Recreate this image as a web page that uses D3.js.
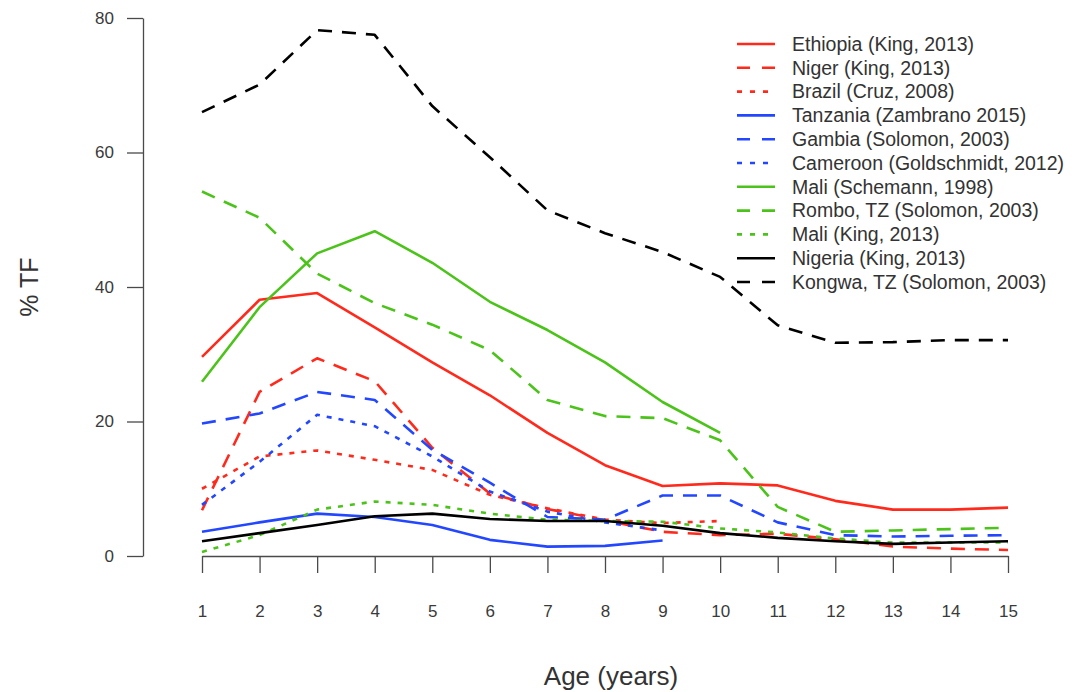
<!DOCTYPE html>
<html>
<head>
<meta charset="utf-8">
<script src="https://cdn.jsdelivr.net/npm/d3@7/dist/d3.min.js"></script>
<style>
  html, body { margin: 0; padding: 0; background: #fff; }
  svg { display: block; font-family: "Liberation Sans", Arial, Helvetica, sans-serif; }
</style>
</head>
<body>
<svg id="chart" width="1075" height="692"></svg>
<script>
// Age in years (x axis)
const ages = [1, 2, 3, 4, 5, 6, 7, 8, 9, 10, 11, 12, 13, 14, 15];
const yTicks = [0, 20, 40, 60, 80];

// Prevalence of trachomatous inflammation-follicular (%) by age; null = not surveyed
const ethiopiaKing   = [29.6, 38.1, 39.1, 34.0, 28.8, 23.9, 18.3, 13.5, 10.4, 10.8, 10.5, 8.2, 6.9, 6.9, 7.2];
const nigerKing      = [6.8, 24.4, 29.4, 26.0, 16.1, 9.3, 7.0, 5.3, 3.6, 3.1, 3.3, 2.5, 1.4, 1.1, 0.9];
const brazilCruz     = [10.0, 14.8, 15.7, 14.3, 12.8, 9.1, 7.1, 5.4, 4.9, 5.2, null, null, null, null, null];
const tanzaniaZamb   = [3.6, 5.0, 6.3, 5.8, 4.6, 2.4, 1.4, 1.5, 2.3, null, null, null, null, null, null];
const gambiaSolomon  = [19.7, 21.2, 24.4, 23.2, 15.8, 10.9, 5.8, 5.4, 9.0, 9.0, 5.0, 3.1, 2.9, 3.0, 3.1];
const cameroonGold   = [7.6, 14.0, 21.0, 19.3, 14.8, 9.6, 6.6, 5.0, 3.8, null, null, null, null, null, null];
const maliSchemann   = [25.9, 37.0, 45.0, 48.3, 43.6, 37.8, 33.6, 28.8, 22.9, 18.3, null, null, null, null, null];
const romboSolomon   = [54.2, 50.3, 42.0, 37.6, 34.4, 30.6, 23.2, 20.8, 20.5, 17.2, 7.3, 3.6, 3.8, 4.0, 4.2];
const maliKing       = [0.6, 3.1, 6.9, 8.1, 7.6, 6.3, 5.4, 5.2, 5.1, 4.1, 3.5, 2.6, 2.0, 2.0, 2.0];
const nigeriaKing    = [2.2, 3.4, 4.6, 5.9, 6.3, 5.5, 5.2, 5.2, 4.5, 3.4, 2.7, 2.2, 1.8, 2.0, 2.2];
const kongwaSolomon  = [66.0, 70.1, 78.2, 77.5, 66.9, 59.3, 51.4, 48.0, 45.2, 41.5, 34.3, 31.7, 31.8, 32.1, 32.1];

const seriesNames = [
  "Ethiopia (King, 2013)", "Niger (King, 2013)", "Brazil (Cruz, 2008)",
  "Tanzania (Zambrano 2015)", "Gambia (Solomon, 2003)", "Cameroon (Goldschmidt, 2012)",
  "Mali (Schemann, 1998)", "Rombo, TZ (Solomon, 2003)", "Mali (King, 2013)",
  "Nigeria (King, 2013)", "Kongwa, TZ (Solomon, 2003)"
];
const seriesValues = [
  ethiopiaKing, nigerKing, brazilCruz, tanzaniaZamb, gambiaSolomon, cameroonGold,
  maliSchemann, romboSolomon, maliKing, nigeriaKing, kongwaSolomon
];

// Styling per series: colour and line type
const RED = "#ff2a1c", BLUE = "#2347ff", GREEN = "#4cc31a", BLACK = "#000000";
const seriesColors = [RED, RED, RED, BLUE, BLUE, BLUE, GREEN, GREEN, GREEN, BLACK, BLACK];
const seriesTypes  = ["solid", "dashed", "dotted", "solid", "dashed", "dotted",
                      "solid", "dashed", "dotted", "solid", "dashed"];
const dashFor = { solid: null, dashed: "14,10", dotted: "5,7" };

const svg = d3.select("#chart");
const axisColor = "#4a4a4a";
const textColor = "#3a3a3a";

const x = d3.scaleLinear().domain([1, 15]).range([202, 1008]);
const y = d3.scaleLinear().domain([0, 80]).range([556, 18]);

// Y axis (detached, on the left)
const yAxis = svg.append("g").attr("transform", "translate(143,0)")
  .call(d3.axisLeft(y).tickValues(yTicks).tickSize(16).tickPadding(13).tickSizeOuter(0));
yAxis.select(".domain").attr("stroke", axisColor).attr("stroke-width", 1.3);
yAxis.selectAll(".tick line").attr("stroke", axisColor).attr("stroke-width", 1.3);
yAxis.selectAll(".tick text").attr("fill", textColor).style("font-size", "17px");

// X axis
const xAxis = svg.append("g").attr("transform", "translate(0,556)")
  .call(d3.axisBottom(x).tickValues(ages).tickSize(17).tickPadding(32).tickSizeOuter(0));
xAxis.select(".domain").attr("stroke", axisColor).attr("stroke-width", 1.3);
xAxis.selectAll(".tick line").attr("stroke", axisColor).attr("stroke-width", 1.3);
xAxis.selectAll(".tick text").attr("fill", textColor).style("font-size", "17px");

// Axis titles
svg.append("text")
  .attr("x", 611).attr("y", 685)
  .attr("text-anchor", "middle")
  .attr("fill", "#333").style("font-size", "26px")
  .text("Age (years)");
svg.append("text")
  .attr("transform", "translate(38,287) rotate(-90)")
  .attr("text-anchor", "middle")
  .attr("fill", "#333").style("font-size", "25px")
  .text("% TF");

// Data lines
const line = d3.line()
  .defined(d => d.v !== null)
  .x(d => x(d.age))
  .y(d => y(d.v));

seriesValues.forEach((vals, i) => {
  const pts = ages.map((a, j) => ({ age: a, v: vals[j] }));
  svg.append("path")
    .datum(pts)
    .attr("d", line)
    .attr("fill", "none")
    .attr("stroke", seriesColors[i])
    .attr("stroke-width", 2.6)
    .attr("stroke-linejoin", "round")
    .attr("stroke-dasharray", dashFor[seriesTypes[i]]);
});

// Legend
const legend = svg.append("g").attr("transform", "translate(737,44)");
seriesNames.forEach((name, i) => {
  const row = legend.append("g").attr("transform", `translate(0,${i * 23.8})`);
  row.append("line")
    .attr("x1", 0).attr("x2", 38).attr("y1", 0).attr("y2", 0)
    .attr("stroke", seriesColors[i])
    .attr("stroke-width", 2.6)
    .attr("stroke-dasharray", seriesTypes[i] === "dashed" ? "13,12" :
                              seriesTypes[i] === "dotted" ? "5,8" : null);
  row.append("text")
    .attr("x", 55).attr("y", 0).attr("dy", "0.35em")
    .attr("fill", "#333").style("font-size", "19.5px")
    .text(name);
});
</script>
</body>
</html>
